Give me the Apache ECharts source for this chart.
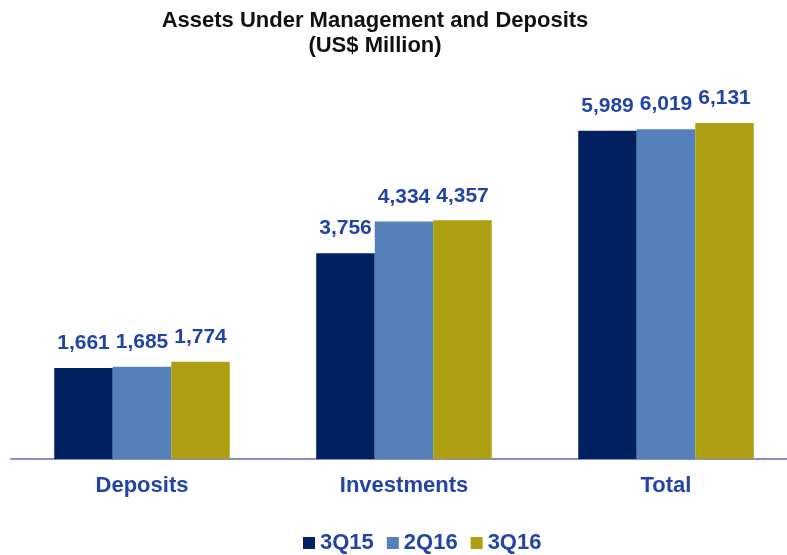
<!DOCTYPE html>
<html>
<head>
<meta charset="utf-8">
<script src="https://cdn.jsdelivr.net/npm/echarts@6/dist/echarts.min.js"></script>
<style>
html,body{margin:0;padding:0;background:#fff;}
#chart{width:787px;height:555px;}
</style>
</head>
<body>
<div id="chart"></div>
<script>
const categories = ['Deposits', 'Investments', 'Total'];
const seriesNames = ['3Q15', '2Q16', '3Q16'];
const values3Q15 = [1661, 3756, 5989];
const values2Q16 = [1685, 4334, 6019];
const values3Q16 = [1774, 4357, 6131];
const titleText = 'Assets Under Management and Deposits\n(US$ Million)';

const colors = ['#002060', '#5581BA', '#AE9F12'];
const FONT = '"Liberation Sans", Arial, sans-serif';
const BLUE = '#2244A6';

function fmt(v) {
  return String(v).replace(/\B(?=(\d{3})+(?!\d))/g, ',');
}

const chart = echarts.init(document.getElementById('chart'), null, {renderer: 'canvas'});
const allValues = [values3Q15, values2Q16, values3Q16];

chart.setOption({
  animation: false,
  backgroundColor: '#ffffff',
  title: {
    text: titleText,
    left: 370,
    top: 3,
    textAlign: 'center',
    textStyle: {
      fontFamily: FONT,
      fontSize: 22,
      fontWeight: 'bold',
      color: '#111111',
      lineHeight: 25
    }
  },
  legend: {
    data: seriesNames,
    left: 298,
    top: 527,
    icon: 'rect',
    itemWidth: 12,
    itemHeight: 12,
    itemGap: 13,
    textStyle: {
      fontFamily: FONT,
      fontSize: 22,
      fontWeight: 'bold',
      color: BLUE
    }
  },
  grid: {
    left: 11,
    width: 786,
    top: 75.4,
    height: 383.6,
    containLabel: false,
    outerBoundsMode: 'none'
  },
  xAxis: {
    type: 'category',
    data: categories,
    axisLine: {show: true, lineStyle: {color: '#8A8AC6', width: 2}},
    axisTick: {show: false},
    axisLabel: {
      margin: 16,
      fontFamily: FONT,
      fontSize: 22,
      fontWeight: 'bold',
      color: BLUE
    }
  },
  yAxis: {
    type: 'value',
    min: 0,
    max: 7000,
    show: false,
    splitLine: {show: false}
  },
  series: seriesNames.map((name, i) => ({
    name: name,
    type: 'bar',
    data: allValues[i],
    barGap: '0%',
    barCategoryGap: '33%',
    itemStyle: {color: colors[i]},
    label: {
      show: true,
      position: 'top',
      distance: 14,
      formatter: p => fmt(p.value),
      fontFamily: FONT,
      fontSize: 21,
      fontWeight: 'bold',
      color: BLUE
    }
  }))
});
</script>
</body>
</html>
